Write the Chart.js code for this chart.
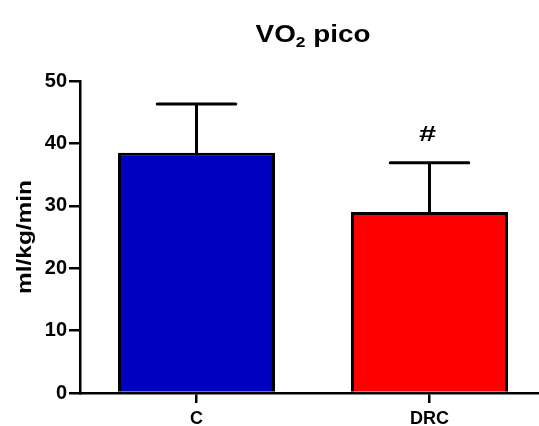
<!DOCTYPE html>
<html>
<head>
<meta charset="utf-8">
<script src="https://cdn.jsdelivr.net/npm/chart.js@4"></script>
<style>
html,body{margin:0;padding:0;background:#fff;overflow:hidden;width:539px;height:426px;}
canvas{display:block;}
</style>
</head>
<body>
<canvas id="c" width="546" height="426" style="width:546px;height:426px"></canvas>
<script>
const categories = ["C", "DRC"];
const means = [38.5, 29.0];
const errors = [7.8, 7.9];
const barColors = ["#0000C0", "#FF0000"];
const marks = ["", "#"];
const yTicks = [0, 10, 20, 30, 40, 50];
const titleMain = "VO";
const titleSub = "2";
const titleRest = " pico";
const yTitle = "ml/kg/min";

const FONT = "'Liberation Sans', Arial, sans-serif";

const extras = {
  id: 'extras',
  afterDatasetsDraw(chart) {
    const ctx = chart.ctx;
    const meta = chart.getDatasetMeta(0);
    const ys = chart.scales.y;
    ctx.save();
    ctx.strokeStyle = '#000';
    ctx.lineWidth = 3;
    ctx.lineCap = 'round';
    meta.data.forEach((bar, i) => {
      const x = bar.x;
      const half = bar.width / 4;
      const yTop = ys.getPixelForValue(means[i]);
      const yErr = ys.getPixelForValue(means[i] + errors[i]);
      ctx.beginPath();
      ctx.moveTo(x, yTop);
      ctx.lineTo(x, yErr);
      ctx.moveTo(x - half, yErr);
      ctx.lineTo(x + half, yErr);
      ctx.stroke();
      if (marks[i]) {
        ctx.save();
        ctx.fillStyle = '#000';
        ctx.font = "bold 22px " + FONT;
        ctx.textAlign = 'center';
        ctx.textBaseline = 'alphabetic';
        ctx.translate(x - 2, yErr - 22);
        ctx.scale(1.4, 1);
        ctx.fillText(marks[i], 0, 0);
        ctx.restore();
      }
    });
    ctx.restore();
  },
  afterDraw(chart) {
    const ctx = chart.ctx;
    const ca = chart.chartArea;
    ctx.save();
    ctx.fillStyle = '#000';
    // title
    const big = "bold 24px " + FONT, small = "bold 15px " + FONT;
    ctx.font = big;
    const w1 = ctx.measureText(titleMain).width;
    const w3 = ctx.measureText(titleRest).width;
    ctx.font = small;
    const w2 = ctx.measureText(titleSub).width;
    const total = w1 + w2 + w3;
    const sx = 1.16;
    ctx.save();
    ctx.translate((ca.left + ca.right) / 2 - total * sx / 2, 42);
    ctx.scale(sx, 1);
    let x = 0;
    ctx.textBaseline = 'alphabetic';
    ctx.textAlign = 'left';
    ctx.font = big; ctx.fillText(titleMain, x, 0); x += w1;
    ctx.font = small; ctx.fillText(titleSub, x, 5); x += w2;
    ctx.font = big; ctx.fillText(titleRest, x, 0);
    ctx.restore();
    // y title
    ctx.translate(31, (ca.top + ca.bottom) / 2);
    ctx.rotate(-Math.PI / 2);
    ctx.scale(1.22, 1);
    ctx.font = "bold 20px " + FONT;
    ctx.textAlign = 'center';
    ctx.fillText(yTitle, 0, 0);
    ctx.restore();
  }
};

new Chart(document.getElementById('c'), {
  type: 'bar',
  data: {
    labels: categories,
    datasets: [{
      data: means,
      backgroundColor: barColors,
      borderColor: '#000',
      borderWidth: 3,
      borderSkipped: 'start',
      categoryPercentage: 1,
      barPercentage: 0.674
    }]
  },
  options: {
    responsive: false,
    animation: false,
    devicePixelRatio: 1,
    layout: { padding: { top: 81, right: 0, left: 0, bottom: 0 } },
    plugins: { legend: { display: false }, title: { display: false }, tooltip: { enabled: false } },
    scales: {
      x: {
        grid: { display: true, drawOnChartArea: false, drawTicks: true, tickLength: 10, color: '#000', lineWidth: 2.5, offset: false },
        border: { display: true, color: '#000', width: 2.5 },
        ticks: { color: '#000', font: { family: FONT, size: 18, weight: 'bold' }, padding: 5 },
        afterFit(s) { s.height = 33; }
      },
      y: {
        min: 0, max: 50,
        afterBuildTicks(s) { s.ticks = yTicks.map(v => ({ value: v })); },
        grid: { display: true, drawOnChartArea: false, drawTicks: true, tickLength: 11, color: '#000', lineWidth: 2.5 },
        border: { display: true, color: '#000', width: 2.5 },
        ticks: { color: '#000', font: { family: FONT, size: 20, weight: 'bold' }, padding: 2 },
        afterFit(s) { s.width = 80; }
      }
    }
  },
  plugins: [extras]
});
</script>
</body>
</html>
